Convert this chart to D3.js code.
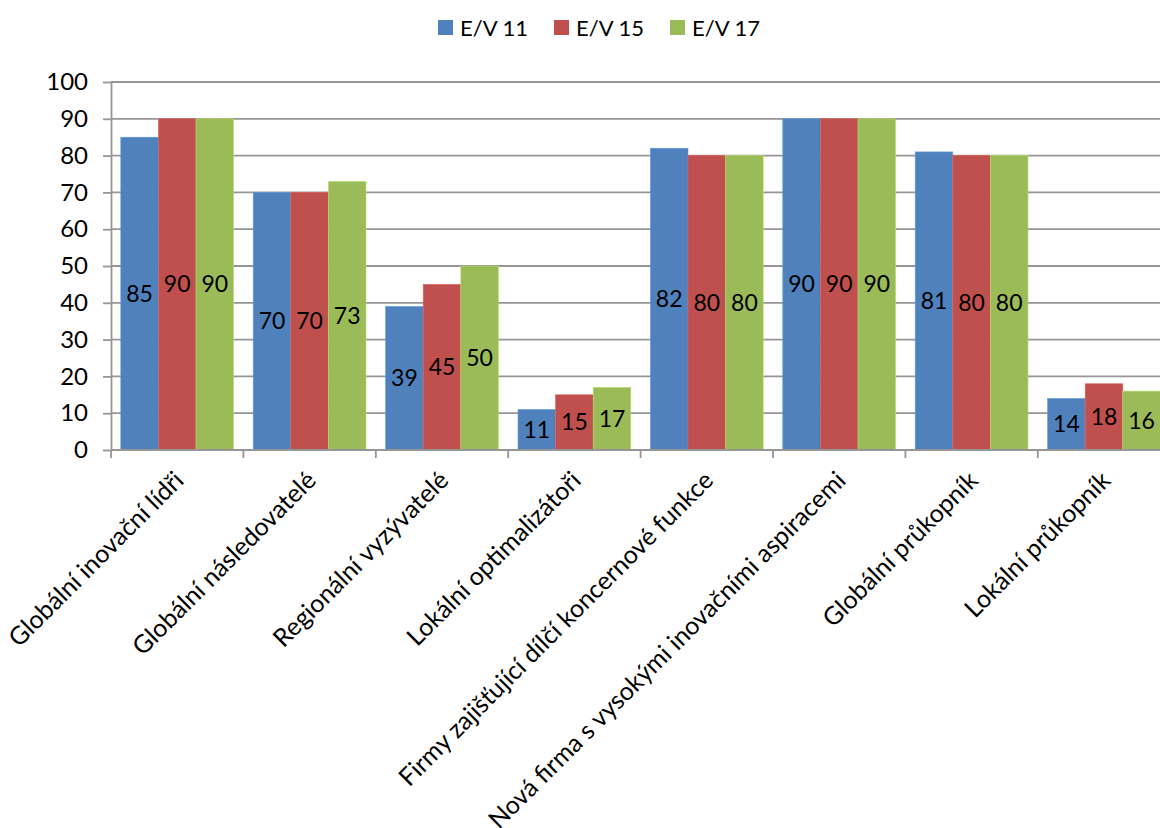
<!DOCTYPE html>
<html>
<head>
<meta charset="utf-8">
<script src="https://cdn.jsdelivr.net/npm/d3@7"></script>
<style>
  body { margin: 0; background: #fff; }
  svg { font-family: Lato, "Noto Sans", sans-serif; }
</style>
</head>
<body>
<svg id="chart" width="1160" height="828"></svg>
<script>
// data
const categories = [
  'Globální inovační lídři',
  'Globální následovatelé',
  'Regionální vyzývatelé',
  'Lokální optimalizátoři',
  'Firmy zajišťující dílčí koncernové funkce',
  'Nová firma s vysokými inovačními aspiracemi',
  'Globální průkopník',
  'Lokální průkopník'
];
const seriesNames = ['E/V 11', 'E/V 15', 'E/V 17'];
const ev11 = [85, 70, 39, 11, 82, 90, 81, 14];
const ev15 = [90, 70, 45, 15, 80, 90, 80, 18];
const ev17 = [90, 73, 50, 17, 80, 90, 80, 16];
const colors = ['#4F81BD', '#C0504D', '#9BBB59'];
const yTicks = [0, 10, 20, 30, 40, 50, 60, 70, 80, 90, 100];

const svg = d3.select('#chart');
const plotLeft = 111, plotTop = 82, plotBottom = 450;
const bandW = 132.4;
const plotRight = plotLeft + bandW * categories.length;

const x = d3.scaleBand().domain(categories).range([plotLeft, plotRight]).paddingInner(0.148).paddingOuter(0.074);
const xs = d3.scaleBand().domain(seriesNames).range([0, x.bandwidth()]);
const y = d3.scaleLinear().domain([0, 100]).range([plotBottom, plotTop]);

// gridlines
svg.append('g')
  .selectAll('line')
  .data(yTicks.slice(1))
  .join('line')
  .attr('x1', plotLeft).attr('x2', 1160)
  .attr('y1', d => y(d)).attr('y2', d => y(d))
  .attr('stroke', '#969696').attr('stroke-width', 1.8);

// bars
const rows = categories.map((c, i) => ({ c, vals: [ev11[i], ev15[i], ev17[i]] }));
const groups = svg.append('g')
  .selectAll('g')
  .data(rows)
  .join('g')
  .attr('transform', d => `translate(${x(d.c)},0)`);

groups.selectAll('rect')
  .data(d => d.vals.map((v, k) => ({ v, k })))
  .join('rect')
  .attr('x', d => xs(seriesNames[d.k]))
  .attr('width', xs.bandwidth())
  .attr('y', d => y(d.v))
  .attr('height', d => y(0) - y(d.v))
  .attr('fill', d => colors[d.k])
  .attr('stroke', d => d3.color(colors[d.k]).brighter(0.5))
  .attr('stroke-width', 0.6);

groups.selectAll('text')
  .data(d => d.vals.map((v, k) => ({ v, k })))
  .join('text')
  .attr('x', d => xs(seriesNames[d.k]) + xs.bandwidth() / 2)
  .attr('y', d => (y(d.v) + y(0)) / 2)
  .attr('dy', '0.35em')
  .attr('text-anchor', 'middle')
  .attr('font-size', 23)
  .text(d => d.v);

// y axis
const yAxis = svg.append('g').attr('transform', `translate(${plotLeft},0)`)
  .call(d3.axisLeft(y).tickValues(yTicks).tickSize(8).tickSizeOuter(0));
yAxis.select('.domain').attr('stroke', '#969696').attr('stroke-width', 1.8);
yAxis.selectAll('.tick line').attr('stroke', '#969696').attr('stroke-width', 1.8);
yAxis.selectAll('.tick text').attr('font-size', 24).attr('font-family', 'Lato, sans-serif')
  .attr('fill', '#000').attr('x', -23);

// x axis
svg.append('line')
  .attr('x1', plotLeft).attr('x2', 1160).attr('y1', plotBottom).attr('y2', plotBottom)
  .attr('stroke', '#969696').attr('stroke-width', 1.8);
svg.append('g')
  .selectAll('line')
  .data(d3.range(categories.length))
  .join('line')
  .attr('x1', i => plotLeft + i * bandW).attr('x2', i => plotLeft + i * bandW)
  .attr('y1', plotBottom).attr('y2', plotBottom + 8)
  .attr('stroke', '#969696').attr('stroke-width', 1.8);

svg.append('g')
  .selectAll('text')
  .data(categories)
  .join('text')
  .attr('transform', d => `translate(${x(d) + x.bandwidth() / 2 + 8},${plotBottom + 32}) rotate(-45)`)
  .attr('text-anchor', 'end')
  .attr('font-size', 25)
  .text(d => d);

// legend
const legend = svg.append('g')
  .selectAll('g')
  .data(seriesNames)
  .join('g')
  .attr('transform', (d, i) => `translate(${438 + i * 116},20)`);
legend.append('rect').attr('width', 15).attr('height', 15).attr('fill', (d, i) => colors[i]);
legend.append('text').attr('x', 22).attr('y', 16).attr('font-size', 22).text(d => d);
</script>
</body>
</html>
